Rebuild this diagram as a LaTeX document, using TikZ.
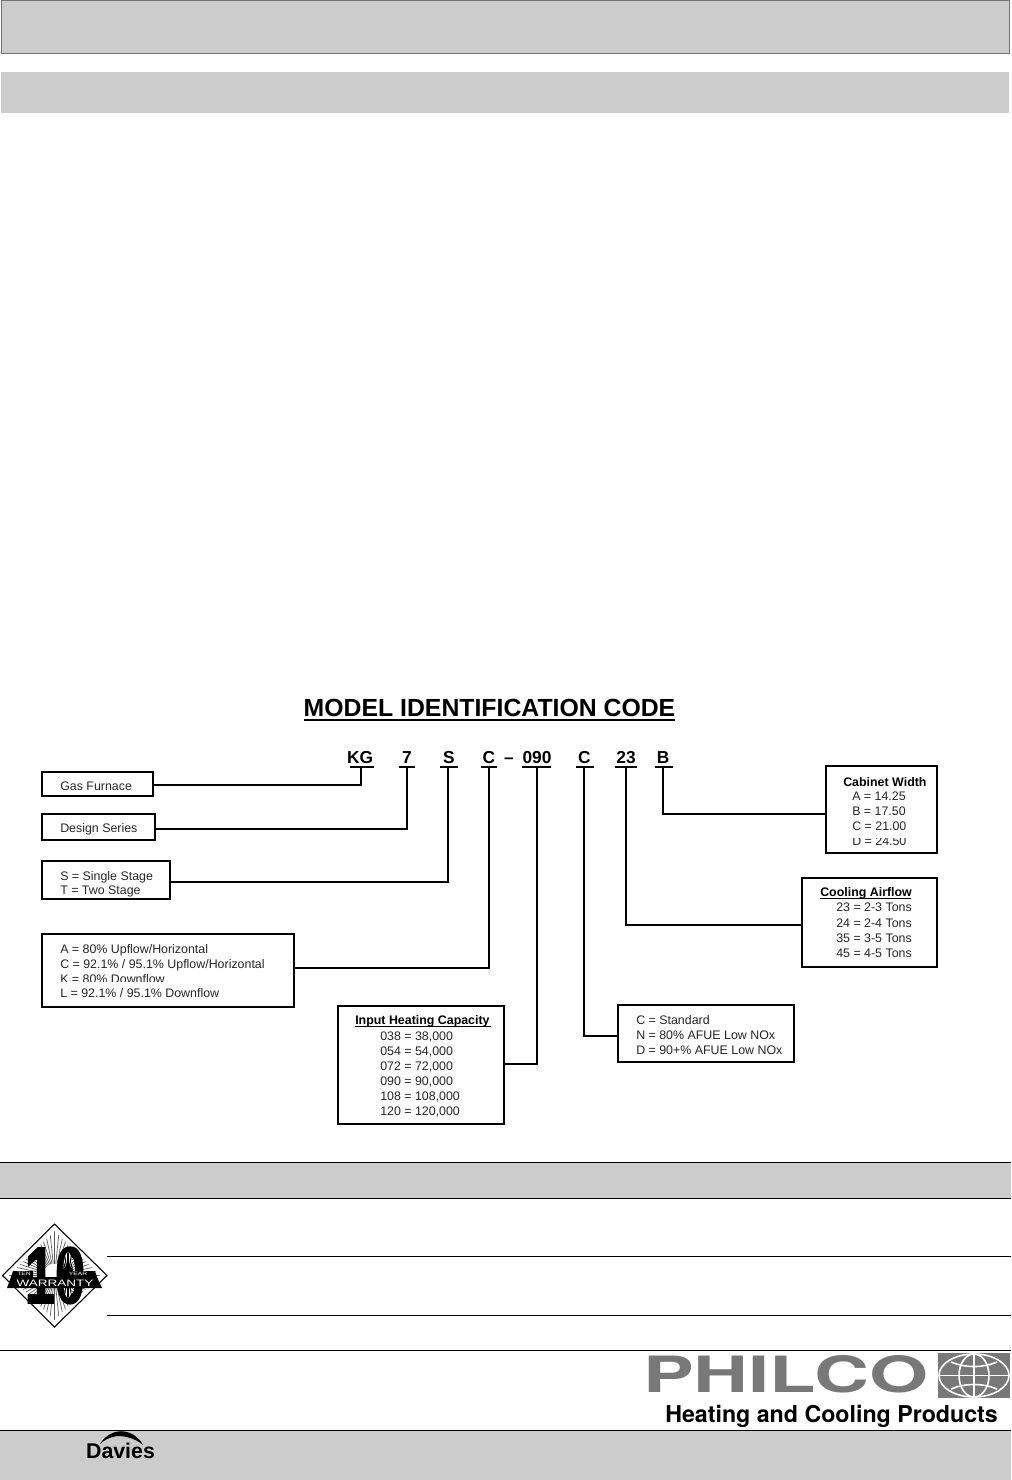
\documentclass[tikz,border=0pt]{standalone}
\usepackage{graphicx}
\usepackage{fontspec}
\setmainfont{Liberation Sans}
\newfontfamily\logofont{TeX Gyre Heros}
\newfontfamily\tenfont[FakeBold=2]{Liberation Sans}
\definecolor{band}{gray}{0.8}
\definecolor{logog}{gray}{0.47}
\tikzset{
  x=0.75pt,y=-0.75pt,
  rulethin/.style={line width=0.75pt,black},
  ibox/.style={draw=black,line width=1.4pt,fill=white},
  conn/.style={draw=black,line width=1.4pt,line join=miter},
  ltext/.style={anchor=base west,inner sep=0pt,font=\fontsize{9.3pt}{11pt}\selectfont,text=black!85},
  boldtext/.style={anchor=base west,inner sep=0pt,font=\fontsize{9.3pt}{11pt}\selectfont\bfseries},
  codetext/.style={anchor=base,inner sep=0pt,font=\fontsize{13pt}{15pt}\selectfont\bfseries},
  uline/.style={draw=black,line width=1.5pt},
  rayline/.style={draw=black!65,line width=0.5pt},
  globeline/.style={draw=white,line width=1.2pt}
}
\begin{document}
\begin{tikzpicture}
\useasboundingbox (0,0) rectangle (1011,1480);
\fill[white] (0,0) rectangle (1011,1480);
% top bands
\path[fill=band,draw=black!55,line width=0.7pt] (1.5,0.5) rectangle (1009,53);
\fill[band] (1,72) rectangle (1009,113);
% title
\node[anchor=base,inner sep=0pt,font=\fontsize{18.6pt}{20pt}\selectfont\bfseries] (title) at (489.5,716) {MODEL IDENTIFICATION CODE};
\draw[line width=1.4pt] (304,720) -- (675,720);
% code letters
\node[codetext] (kg) at (360,763) {KG};
\node[codetext] (c7) at (407,763) {7};
\node[codetext] (cs) at (449,763) {S};
\node[codetext] (cc) at (489,763) {C};
\node[codetext] (dash) at (509,763) {--};
\node[codetext] (c090) at (537,763) {090};
\node[codetext] (cc2) at (584.5,763) {C};
\node[codetext] (c23) at (626,763) {23};
\node[codetext] (cb) at (663,763) {B};
\coordinate (ukg) at (361,767);
\coordinate (u7) at (407,767);
\coordinate (us) at (448,767);
\coordinate (uc) at (489,767);
\coordinate (u090) at (537,767);
\coordinate (uc2) at (584,767);
\coordinate (u23) at (626,767);
\coordinate (ub) at (663,767);
\draw[uline] (350,767) -- (374,767);
\draw[uline] (399,767) -- (415,767);
\draw[uline] (440,767) -- (458,767);
\draw[uline] (481,767) -- (497,767);
\draw[uline] (522,767) -- (551,767);
\draw[uline] (576,767) -- (594,767);
\draw[uline] (615,767) -- (637,767);
\draw[uline] (655,767) -- (673,767);
% left boxes
\path[ibox] (42,772) rectangle (153,796);
\coordinate (b1) at (153,785);
\node[ltext] (t1) at (60,790) {Gas Furnace};
\path[ibox] (42,814) rectangle (155,840);
\coordinate (b2) at (155,829);
\node[ltext] (t2) at (60,832.5) {Design Series};
\path[ibox] (42,861) rectangle (170,899);
\coordinate (b3) at (170,882);
\node[ltext] (t3a) at (60,880) {S = Single Stage};
\node[ltext] (t3b) at (60,894.5) {T = Two Stage};
\path[ibox] (42,934) rectangle (294,1007);
\coordinate (b4) at (294,968);
\node[ltext] (t4a) at (60,953) {A = 80\% Upflow/Horizontal};
\node[ltext] (t4b) at (60,968) {C = 92.1\% / 95.1\% Upflow/Horizontal};
\node[ltext] (t4c) at (60,983) {K = 80\% Downflow};
\node[ltext] (t4d) at (60,997) {L = 92.1\% / 95.1\% Downflow};
\fill[white] (58,981.5) rectangle (170,986);
% heating
\path[ibox] (338,1006) rectangle (504,1124);
\coordinate (b5) at (504,1064);
\node[boldtext] (h0) at (355,1024) {Input Heating Capacity};
\draw[line width=0.8pt] (355,1026.5) -- (491,1026.5);
\node[ltext] (h1) at (380,1040) {038 = 38,000};
\node[ltext] (h2) at (380,1055) {054 = 54,000};
\node[ltext] (h3) at (380,1070) {072 = 72,000};
\node[ltext] (h4) at (380,1085) {090 = 90,000};
\node[ltext] (h5) at (380,1100) {108 = 108,000};
\node[ltext] (h6) at (380,1115) {120 = 120,000};
% standard
\path[ibox] (618,1005) rectangle (794,1062);
\coordinate (b6) at (618,1036);
\node[ltext] (s1) at (636,1024) {C = Standard};
\node[ltext] (s2) at (636,1039) {N = 80\% AFUE Low NOx};
\node[ltext] (s3) at (636,1054) {D = 90+\% AFUE Low NOx};
% cooling
\path[ibox] (802,878) rectangle (937,967);
\coordinate (b7) at (802,925);
\node[boldtext] (k0) at (820,896) {Cooling Airflow};
\draw[line width=0.8pt] (820,898.5) -- (911,898.5);
\node[ltext] (k1) at (836,911) {23 = 2-3 Tons};
\node[ltext] (k2) at (836,927) {24 = 2-4 Tons};
\node[ltext] (k3) at (836,942) {35 = 3-5 Tons};
\node[ltext] (k4) at (836,957) {45 = 4-5 Tons};
% cabinet
\path[ibox] (826,766) rectangle (937,853);
\coordinate (b8) at (826,814);
\node[boldtext] (w0) at (843,786) {Cabinet Width};
\node[ltext] (w1) at (852,800) {A = 14.25};
\node[ltext] (w2) at (852,815) {B = 17.50};
\node[ltext] (w3) at (852,830) {C = 21.00};
\node[ltext] (w4) at (852,845) {D = 24.50};
\fill[white] (850,834) rectangle (910,837.5);
% connectors
\draw[conn] (b1) -| (ukg);
\draw[conn] (b2) -| (u7);
\draw[conn] (b3) -| (us);
\draw[conn] (b4) -| (uc);
\draw[conn] (b5) -| (u090);
\draw[conn] (b6) -| (uc2);
\draw[conn] (b7) -| (u23);
\draw[conn] (b8) -| (ub);
% warranty band
\fill[band] (0,1163) rectangle (1011,1198);
\draw[rulethin] (0,1162.5) -- (1011,1162.5);
\draw[rulethin] (0,1198.5) -- (1011,1198.5);
\draw[rulethin] (107,1256.5) -- (1011,1256.5);
\draw[rulethin] (107,1315.5) -- (1011,1315.5);
\draw[rulethin] (0,1350.5) -- (1011,1350.5);
% warranty badge
\path[draw=black,line width=0.8pt,fill=white] (54.5,1224) -- (107,1275.5) -- (54.5,1327) -- (2.5,1275.5) -- cycle;
\begin{scope}
\clip (54.5,1231) -- (100,1275.5) -- (54.5,1320) -- (9,1275.5) -- cycle;
\foreach \a in {0,6,...,354}{
  \draw[rayline] (54.5,1275.5) ++(\a:12) -- ++(\a:50);
}
\end{scope}
\node[anchor=base,inner sep=0pt,font=\tenfont\bfseries\fontsize{60pt}{60pt}\selectfont] (ten) at (55,1303) {\scalebox{0.68}[1]{10}};
\fill[white] (68,1275) ellipse [x radius=5,y radius=23];
\begin{scope}
\clip (68,1275) ellipse [x radius=5,y radius=23];
\foreach \a in {-170,-160,...,180}{\draw[black,line width=0.9pt] (68,1275) -- ++(\a:30);}
\end{scope}
\fill[black] (13,1271) -- (33,1271) -- (33,1277) -- (63,1277) -- (63,1271) -- (95,1271) -- (97,1277) -- (102,1288) -- (7,1288) -- (11,1277) -- cycle;
\node[anchor=center,inner sep=0pt,text=white,font=\fontsize{7pt}{8pt}\selectfont] (war) at (55,1283) {\scalebox{1.45}[1]{WARRANTY}};
\node[anchor=center,inner sep=0pt,text=white,font=\fontsize{3.6pt}{4pt}\selectfont] (tenw) at (24,1273.5) {\scalebox{1.4}[1]{TEN}};
\node[anchor=center,inner sep=0pt,text=white,font=\fontsize{3.6pt}{4pt}\selectfont] (yearw) at (78,1273.5) {\scalebox{1.4}[1]{YEAR}};
% bottom band
\fill[band] (0,1430) rectangle (1011,1480);
\draw[rulethin] (0,1430) -- (1011,1430);
% davies
\node[anchor=base,inner sep=0pt,font=\fontsize{16pt}{17pt}\selectfont\bfseries] (dav) at (120.5,1458) {Davies};
\fill[black] (100,1444) .. controls (106,1434) and (118,1428) .. (130,1433) .. controls (137,1436) and (141,1441) .. (143,1445) .. controls (135,1438) and (125,1436) .. (117,1436) .. controls (110,1437) and (104,1440) .. (100,1444) -- cycle;
% philco
\node[anchor=base west,inner sep=0pt,text=logog,font=\logofont\bfseries\fontsize{37.5pt}{38pt}\selectfont] (ph) at (643,1392) {\scalebox{1.52}[1]{PHILCO}};
\fill[logog] (938,1353) rectangle (1010,1398);
\draw[globeline] (974,1375.5) ellipse [x radius=35,y radius=21.5];
\draw[globeline] (974,1375.5) ellipse [x radius=15,y radius=21.5];
\draw[globeline] (974,1354) -- (974,1397);
\draw[globeline] (939,1375.5) -- (1009,1375.5);
\draw[globeline] (951,1362) .. controls (965,1368) and (983,1368) .. (997,1362);
\draw[globeline] (951,1389) .. controls (965,1383) and (983,1383) .. (997,1389);
\node[anchor=base west,inner sep=0pt,font=\logofont\fontsize{17.4pt}{19pt}\selectfont] (hc) at (665,1422) {\textbf{Heating and Cooling Products}};
\end{tikzpicture}
\end{document}
